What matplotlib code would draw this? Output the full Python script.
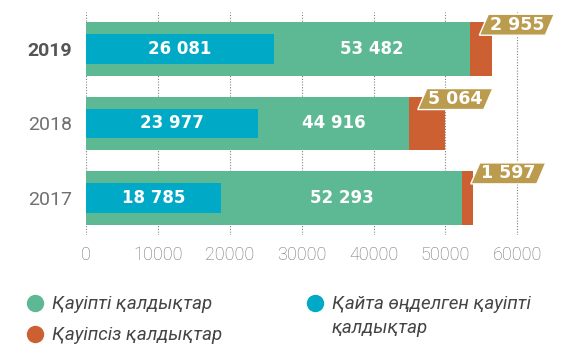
import matplotlib.pyplot as plt
import matplotlib.transforms as mtransforms
from matplotlib.patches import Polygon
from matplotlib.lines import Line2D

years = ["2017", "2018", "2019"]
hazardous = [52293, 44916, 53482]
non_hazardous = [1597, 5064, 2955]
recycled = [18785, 23977, 26081]
x_ticks = [0, 10000, 20000, 30000, 40000, 50000, 60000]

GREEN = "#5DB994"
CYAN = "#00A9C5"
ORANGE = "#CD6033"
GOLD = "#BB9B4D"
GRAY = "#707070"


def fmt(v):
    return f"{v:,}".replace(",", " ")


fig = plt.figure(figsize=(5.68, 3.44), dpi=100)
ax = fig.add_axes([86.3 / 568, 109 / 344, 6.5 * 71.8 / 568, 223 / 344])

ypos = list(range(len(years)))
big_h = 0.725
small_h = 0.40

ax.barh(ypos, hazardous, height=big_h, color=GREEN, zorder=2)
ax.barh(ypos, non_hazardous, left=hazardous, height=big_h, color=ORANGE, zorder=2)
ax.barh(ypos, recycled, height=small_h, color=CYAN, zorder=3)

for y, h, n, r in zip(ypos, hazardous, non_hazardous, recycled):
    ax.text(r / 2, y, fmt(r), color="white", fontsize=12, fontweight="bold",
            ha="center", va="center", zorder=4)
    ax.text((r + h) / 2, y, fmt(h), color="white", fontsize=12, fontweight="bold",
            ha="center", va="center", zorder=4)

    # slanted tag for the non-hazardous amount, sized in inches
    trans = fig.dpi_scale_trans + mtransforms.ScaledTranslation(
        h, y + big_h / 2, ax.transData)
    verts = [(0.09, -0.13), (0.75, -0.13), (0.84, 0.08), (0.18, 0.08)]
    ax.add_patch(Polygon(verts, closed=True, facecolor=GOLD, edgecolor="white",
                         linewidth=1.0, transform=trans, zorder=5, clip_on=False))
    ax.text(0.465, -0.025, fmt(n), color="white", fontsize=12.5, fontweight="bold",
            ha="center", va="center", transform=trans, zorder=6)

ax.set_xlim(0, 65000)
ax.set_ylim(-0.5, 2.5)
ax.set_xticks(x_ticks)
ax.set_xticklabels([str(t) for t in x_ticks], family=["Roboto", "DejaVu Sans"],
                   fontsize=13, color=GRAY, fontweight="light")
ax.set_yticks(ypos)
ax.set_yticklabels(years, family=["Roboto", "DejaVu Sans"], fontsize=14, color=GRAY)
top = ax.get_yticklabels()[-1]
top.set_fontweight("bold")
top.set_color("#555555")
ax.tick_params(axis="both", length=0)
ax.tick_params(axis="x", pad=8)
ax.tick_params(axis="y", pad=10)
for s in ax.spines.values():
    s.set_visible(False)
ax.grid(axis="x", color="#808080", linestyle=(0, (1, 1.5)), linewidth=0.8, zorder=0)
ax.set_axisbelow(True)

# legend drawn by hand: two entries on the left, one wrapped entry on the right
legend_items = [
    (35, 303, GREEN, "Қауіпті қалдықтар"),
    (35, 334, ORANGE, "Қауіпсіз қалдықтар"),
    (315, 303, CYAN, "Қайта өңделген қауіпті\nқалдықтар"),
]
for px, py, color, label in legend_items:
    fx, fy = px / 568, 1 - py / 344
    fig.add_artist(Line2D([fx], [fy], marker="o", markersize=11.5, color=color,
                          linestyle="none", transform=fig.transFigure))
    fig.text(fx + 17 / 568, fy + 8 / 344, label, ha="left", va="top",
             family=["Roboto", "DejaVu Sans"], fontstyle="italic",
             fontsize=13.5, color="#454545", linespacing=1.4)

fig.savefig("out.png", dpi=100)
